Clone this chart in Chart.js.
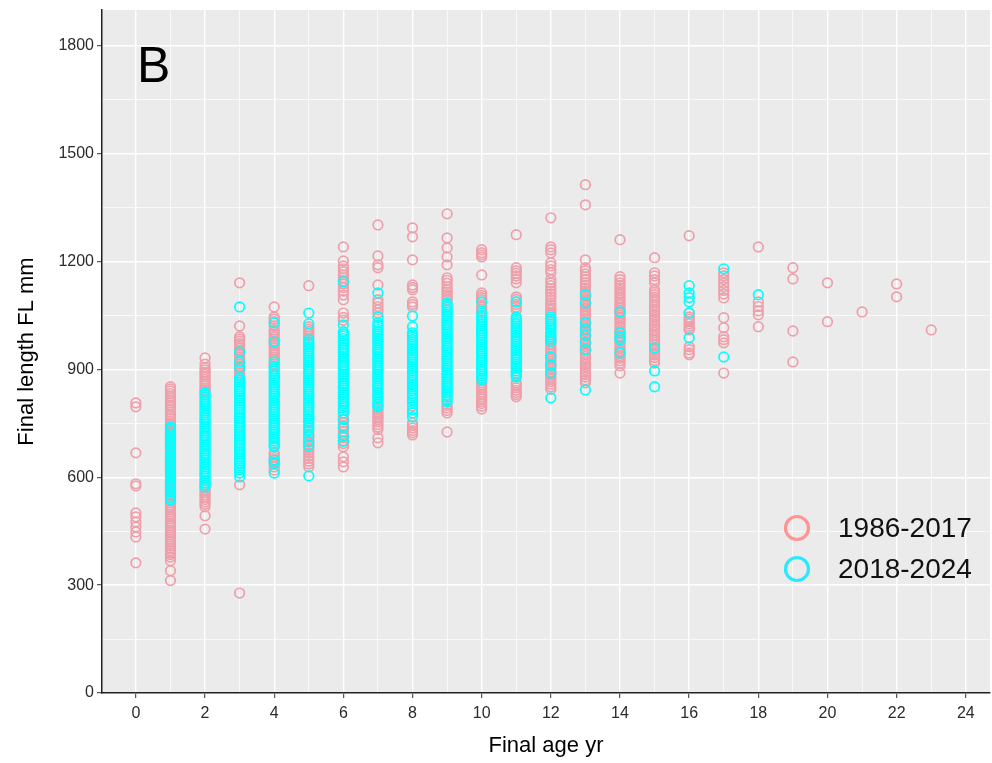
<!DOCTYPE html>
<html lang="en">
<head>
    <meta charset="UTF-8">
    <title>Final length by final age</title>
    <style>
        body {
            margin: 0;
            padding: 0;
            background: #fff;
        }
        #chart {
            display: block;
        }
    </style>
</head>
<body>
    <canvas id="chart" width="992" height="763"></canvas>

    <script src="https://cdn.jsdelivr.net/npm/chart.js"></script>
    <script>
        // series labels
        const seriesLabels = ['1986-2017', '2018-2024'];

        // ages (x) for each series
        const agesOld = [0, 1, 2, 3, 4, 5, 6, 7, 8, 9, 10, 11, 12, 13, 14, 15, 16, 17, 18, 19, 20, 21, 22, 23];
        const agesNew = [1, 2, 3, 4, 5, 6, 7, 8, 9, 10, 11, 12, 13, 14, 15, 16, 17, 18];

        // lengths (FL mm) per age, 1986-2017
        const lengthsOld = [
            [807, 796, 668, 582, 576, 501, 490, 476, 462, 448, 434, 362],
            [852, 846, 840, 833, 826, 821, 814, 807, 801, 795, 788, 782, 775, 770, 763, 756, 750, 745, 738, 731, 725, 720, 712, 706, 701, 693, 687, 682, 674, 668, 663, 655, 650, 643, 636, 631, 624, 618, 611, 605, 599, 592, 586, 580, 573, 567, 561, 554, 548, 542, 535, 529, 523, 516, 510, 504, 497, 491, 485, 478, 472, 466, 459, 453, 447, 440, 434, 428, 421, 415, 409, 402, 396, 390, 385, 378, 368, 340, 313],
            [932, 915, 905, 899, 892, 886, 880, 873, 867, 860, 854, 848, 842, 837, 571, 565, 558, 551, 545, 538, 531, 525, 518, 493, 456],
            [1141, 1021, 991, 985, 979, 972, 966, 960, 953, 947, 941, 934, 928, 922, 915, 909, 903, 896, 890, 884, 877, 871, 579, 278],
            [1074, 1046, 1040, 1033, 1021, 1010, 1004, 998, 991, 985, 979, 972, 966, 960, 953, 947, 941, 934, 928, 915, 909, 668, 662, 655, 649, 643, 636, 629, 620],
            [1133, 1019, 1012, 1006, 1000, 993, 987, 728, 720, 712, 705, 698, 690, 682, 675, 668, 660, 652, 645, 637, 629],
            [1241, 1202, 1188, 1180, 1172, 1163, 1155, 1147, 1138, 1128, 1118, 1107, 1094, 1057, 1045, 1037, 770, 762, 752, 745, 736, 727, 718, 710, 702, 694, 685, 657, 643, 629],
            [1302, 1216, 1191, 1183, 1135, 1094, 1085, 1075, 1066, 1058, 789, 782, 775, 768, 761, 754, 747, 740, 733, 710, 696],
            [1294, 1269, 1205, 1135, 1128, 1122, 1088, 1081, 1074, 798, 751, 744, 737, 730, 724, 718],
            [1333, 1266, 1238, 1213, 1191, 1155, 1148, 1140, 1130, 1122, 1115, 1108, 1101, 1094, 800, 793, 786, 779, 726],
            [1233, 1225, 1219, 1213, 1163, 1113, 1106, 1100, 1094, 1075, 1068, 1062, 863, 857, 850, 844, 837, 830, 824, 818, 811, 805, 798, 790],
            [1275, 1183, 1175, 1168, 1160, 1152, 1141, 1102, 1095, 1088, 1081, 1074, 1066, 863, 856, 849, 842, 836, 830, 824],
            [1322, 1241, 1233, 1224, 1197, 1188, 1178, 1169, 1150, 1141, 1133, 1125, 1117, 1110, 1102, 1094, 1085, 1079, 1072, 1065, 1058, 1052, 985, 978, 971, 964, 957, 950, 943, 936, 929, 922, 915, 908, 901, 894, 887, 880, 873, 866, 859, 852, 845],
            [1414, 1358, 1205, 1183, 1175, 1166, 1158, 1150, 1141, 1134, 1126, 1119, 1112, 1104, 1097, 1090, 1083, 1076, 1069, 1062, 1055, 1048, 1041, 1034, 1027, 1020, 1013, 1006, 999, 992, 985, 978, 971, 964, 957, 950, 943, 936, 929, 922, 915, 908, 900, 893, 886, 879, 871, 863],
            [1261, 1158, 1150, 1141, 1134, 1127, 1120, 1113, 1106, 1099, 1092, 1085, 1078, 1071, 1064, 1057, 1050, 1043, 1036, 1029, 1022, 1015, 1008, 1001, 994, 987, 980, 973, 966, 959, 952, 945, 938, 931, 924, 917, 910, 890],
            [1211, 1169, 1160, 1150, 1141, 1122, 1115, 1108, 1101, 1094, 1087, 1080, 1073, 1066, 1059, 1052, 1045, 1038, 1031, 1024, 1017, 1010, 1003, 996, 989, 982, 975, 968, 961, 954, 947, 940, 933, 925, 918],
            [1272, 1057, 1046, 1040, 1033, 1027, 1020, 1014, 1010, 963, 955, 946, 941],
            [1169, 1160, 1150, 1140, 1130, 1120, 1110, 1099, 1044, 1016, 991, 983, 974, 890],
            [1241, 1088, 1075, 1063, 1052, 1019],
            [1183, 1152, 1007, 921],
            [1141, 1033],
            [1060],
            [1138, 1102],
            [1010]
        ];

        // lengths (FL mm) per age, 2018-2024
        const lengthsNew = [
            [740, 733, 726, 719, 711, 704, 697, 690, 682, 675, 668, 660, 653, 646, 639, 631, 624, 617, 610, 602, 595, 588, 580, 573, 566, 559, 551, 544, 537],
            [835, 829, 823, 816, 810, 804, 798, 791, 785, 779, 773, 766, 760, 754, 748, 741, 735, 729, 723, 716, 710, 704, 698, 691, 685, 679, 673, 666, 660, 654, 648, 641, 635, 629, 623, 616, 610, 604, 598, 591, 585, 579, 573],
            [1074, 949, 921, 905, 876, 870, 864, 857, 851, 845, 839, 832, 826, 820, 814, 807, 801, 795, 789, 782, 776, 770, 764, 757, 751, 745, 739, 732, 726, 720, 714, 707, 701, 695, 689, 682, 676, 670, 664, 657, 651, 645, 639, 632, 626, 620, 612, 601],
            [1030, 977, 921, 907, 901, 895, 888, 882, 876, 870, 863, 857, 851, 845, 838, 832, 826, 820, 813, 807, 801, 795, 788, 782, 776, 770, 763, 757, 751, 745, 738, 732, 726, 720, 713, 707, 701, 695, 688, 685, 648, 640, 612],
            [1057, 1027, 982, 976, 970, 963, 957, 951, 945, 938, 932, 926, 920, 913, 907, 901, 895, 888, 882, 876, 870, 863, 857, 851, 845, 838, 832, 826, 820, 813, 807, 801, 795, 788, 782, 776, 770, 763, 757, 751, 745, 738, 732, 716, 700, 688, 604],
            [1144, 1024, 1005, 999, 993, 986, 980, 974, 968, 961, 955, 949, 943, 936, 930, 924, 918, 911, 905, 899, 893, 886, 880, 874, 868, 861, 855, 849, 843, 836, 830, 824, 818, 811, 805, 799, 793, 786, 779, 760, 740, 715, 700],
            [1113, 1046, 1030, 1024, 1018, 1011, 1005, 999, 993, 986, 980, 974, 968, 961, 955, 949, 943, 936, 930, 924, 918, 911, 905, 899, 893, 886, 880, 874, 868, 861, 855, 849, 843, 836, 830, 824, 818, 811, 805, 799, 796],
            [1049, 1019, 1002, 996, 990, 983, 977, 971, 965, 958, 952, 946, 940, 933, 927, 921, 915, 908, 902, 896, 890, 883, 877, 871, 865, 858, 852, 846, 840, 833, 827, 821, 815, 808, 787, 779, 768],
            [1085, 1079, 1073, 1066, 1060, 1054, 1048, 1041, 1035, 1029, 1023, 1016, 1010, 1004, 998, 991, 985, 979, 973, 966, 960, 954, 948, 941, 935, 929, 923, 916, 910, 904, 898, 891, 885, 879, 873, 866, 860, 854, 848, 841, 835, 829, 823, 816, 810],
            [1088, 1057, 1051, 1045, 1038, 1032, 1026, 1020, 1013, 1007, 1001, 995, 988, 982, 976, 970, 963, 957, 951, 945, 938, 932, 926, 920, 913, 907, 901, 895, 888, 882, 876, 871],
            [1088, 1046, 1040, 1034, 1028, 1021, 1015, 1009, 1003, 996, 990, 984, 978, 971, 965, 959, 953, 946, 940, 934, 928, 921, 915, 909, 903, 896, 890, 884, 879],
            [1046, 1040, 1034, 1027, 1021, 1015, 1009, 1002, 996, 991, 985, 978, 935, 912, 890, 821],
            [1108, 1085, 1030, 1012, 995, 975, 955, 843],
            [1060, 1002, 990, 982, 946],
            [960, 896, 852],
            [1133, 1113, 1100, 1088, 1057, 988],
            [1180, 935],
            [1108]
        ];

        // tick positions
        const xMajor = [0, 2, 4, 6, 8, 10, 12, 14, 16, 18, 20, 22, 24];
        const xMinor = [1, 3, 5, 7, 9, 11, 13, 15, 17, 19, 21, 23];
        const yMajor = [0, 300, 600, 900, 1200, 1500, 1800];
        const yMinor = [150, 450, 750, 1050, 1350, 1650];

        function toPoints(ages, lengths) {
            const pts = [];
            ages.forEach((a, i) => {
                lengths[i].forEach(v => pts.push({ x: a, y: v }));
            });
            return pts;
        }

        const pinkPoint = '#EE9FA9';
        const cyanPoint = '#00FFFF';
        const pinkKey = '#FF9494';
        const cyanKey = '#2DE6FF';
        const fontFamily = '"Liberation Sans", Arial, sans-serif';

        // grey panel behind everything
        const panelBg = {
            id: 'panelBg',
            beforeDraw(chart) {
                const { ctx, chartArea: a } = chart;
                ctx.save();
                ctx.fillStyle = '#EBEBEB';
                ctx.fillRect(a.left, a.top, a.right - a.left, a.bottom - a.top);
                ctx.restore();
            }
        };

        // panel letter and legend inside the plot
        const insideText = {
            id: 'insideText',
            afterDraw(chart) {
                const { ctx, chartArea: a } = chart;
                ctx.save();
                ctx.fillStyle = '#000';
                ctx.font = '50px ' + fontFamily;
                ctx.textBaseline = 'alphabetic';
                ctx.textAlign = 'left';
                ctx.fillText('B', a.left + 35, a.top + 72);

                const keys = [pinkKey, cyanKey];
                ctx.font = '28px ' + fontFamily;
                ctx.textBaseline = 'middle';
                chart.data.datasets.forEach((ds, i) => {
                    const cx = a.right - 193;
                    const cy = a.bottom - 165 + i * 41;
                    ctx.beginPath();
                    ctx.arc(cx, cy, 11.5, 0, Math.PI * 2);
                    ctx.lineWidth = 3.2;
                    ctx.strokeStyle = keys[i];
                    ctx.stroke();
                    ctx.fillStyle = '#111';
                    ctx.fillText(ds.label, cx + 41, cy + 1);
                });
                ctx.restore();
            }
        };

        const tickStyle = {
            color: '#2b2b2b',
            font: { family: fontFamily, size: 16 }
        };

        new Chart(document.getElementById('chart'), {
            type: 'scatter',
            data: {
                datasets: [{
                    label: seriesLabels[0],
                    data: toPoints(agesOld, lengthsOld),
                    borderColor: pinkPoint,
                    backgroundColor: 'rgba(0,0,0,0)',
                    pointRadius: 4.8,
                    borderWidth: 1.7,
                    order: 1
                }, {
                    label: seriesLabels[1],
                    data: toPoints(agesNew, lengthsNew),
                    borderColor: cyanPoint,
                    backgroundColor: 'rgba(0,0,0,0)',
                    pointRadius: 4.8,
                    borderWidth: 1.7,
                    order: 0
                }]
            },
            options: {
                responsive: false,
                devicePixelRatio: 1,
                animation: false,
                layout: {
                    autoPadding: false,
                    padding: { left: 0, top: 10, right: 2, bottom: 0 }
                },
                plugins: {
                    legend: { display: false },
                    tooltip: { enabled: false }
                },
                scales: {
                    x: {
                        type: 'linear',
                        min: -0.98,
                        max: 24.7,
                        afterBuildTicks: s => {
                            s.ticks = xMajor.concat(xMinor).sort((p, q) => p - q).map(v => ({ value: v }));
                        },
                        afterFit: s => {
                            s.height = 70;
                            s.paddingLeft = 0;
                            s.paddingRight = 0;
                        },
                        ticks: {
                            ...tickStyle,
                            padding: 6,
                            autoSkip: false,
                            maxRotation: 0,
                            callback: v => xMajor.includes(v) ? String(v) : ''
                        },
                        grid: {
                            color: '#FFFFFF',
                            lineWidth: c => xMajor.includes(c.tick.value) ? 1.4 : 0.7,
                            tickColor: c => xMajor.includes(c.tick.value) ? '#333' : 'rgba(0,0,0,0)',
                            tickLength: 5,
                            tickWidth: 1
                        },
                        border: { display: true, color: '#222', width: 1.5 },
                        title: {
                            display: true,
                            text: 'Final age yr',
                            color: '#000',
                            font: { family: fontFamily, size: 22 },
                            padding: { top: 0, bottom: 4 }
                        }
                    },
                    y: {
                        type: 'linear',
                        min: 0,
                        max: 1900,
                        afterBuildTicks: s => {
                            s.ticks = yMajor.concat(yMinor).sort((p, q) => p - q).map(v => ({ value: v }));
                        },
                        afterFit: s => {
                            s.width = 102;
                            s.paddingTop = 0;
                            s.paddingBottom = 0;
                        },
                        ticks: {
                            ...tickStyle,
                            padding: 3,
                            autoSkip: false,
                            callback: v => yMajor.includes(v) ? String(v) : ''
                        },
                        grid: {
                            color: '#FFFFFF',
                            lineWidth: c => yMajor.includes(c.tick.value) ? 1.4 : 0.7,
                            tickColor: c => yMajor.includes(c.tick.value) ? '#333' : 'rgba(0,0,0,0)',
                            tickLength: 5,
                            tickWidth: 1
                        },
                        border: { display: true, color: '#222', width: 1.5 },
                        title: {
                            display: true,
                            text: 'Final length FL mm',
                            color: '#000',
                            font: { family: fontFamily, size: 22 },
                            padding: { top: 14, bottom: 0 }
                        }
                    }
                }
            },
            plugins: [panelBg, insideText]
        });
    </script>
</body>
</html>
